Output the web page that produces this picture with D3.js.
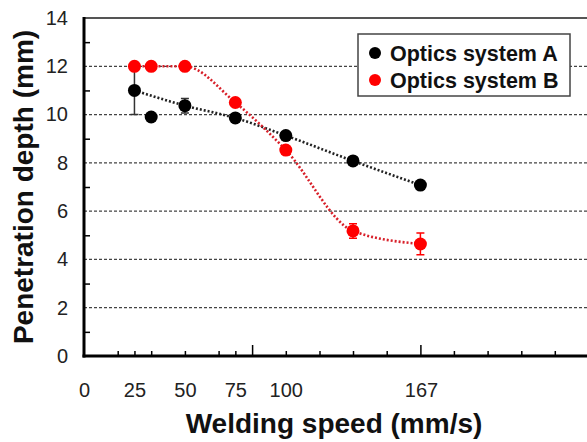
<!DOCTYPE html>
<html lang="en">
<head>
    <meta charset="UTF-8">
    <title>Penetration depth vs welding speed</title>
    <script src="https://cdn.jsdelivr.net/npm/d3@7"></script>
    <style>
        body { margin: 0; background: #fff; }
        text { font-family: Arial, "Liberation Sans", sans-serif; }
    </style>
</head>
<body>
    <svg id="chart" width="587" height="442"></svg>

    <script>
        // welding speed in mm/s (1.5, 2, 3, 4.5, 6, 8, 10 m/min)
        const speeds = [25, 33.3, 50, 75, 100, 133.3, 166.7];
        const depthA = [11.0, 9.9, 10.37, 9.86, 9.13, 8.08, 7.08];
        const errA   = [1.0, 0, 0.3, 0, 0, 0, 0];
        const depthB = [12.0, 12.0, 12.0, 10.5, 8.53, 5.18, 4.64];
        const errB   = [0, 0, 0, 0, 0, 0.3, 0.45];
        // dotted line of system A skips the 33 mm/s point
        const lineA = [25, 50, 75, 100, 133.3, 166.7];

        const seriesNames = ["Optics system A", "Optics system B"];
        const xLabels = [0, 25, 50, 75, 100, 167];
        const xMinorTicks = [16.7, 25, 33.3, 50, 66.7, 75, 100, 116.7, 133.3, 150, 183.3, 200, 216.7, 233.3];
        const xMajorTicks = [83.3, 166.7];
        const yLabels = [0, 2, 4, 6, 8, 10, 12, 14];
        const yMinorTicks = [1, 3, 5, 7, 9, 11, 13];
        const gridValues = [2, 4, 6, 8, 10, 12];

        const plotLeft = 84, plotRight = 588.5, plotTop = 18, plotBottom = 356;

        const svg = d3.select("#chart");
        const x = d3.scaleLinear().domain([0, 250]).range([plotLeft, plotRight]);
        const y = d3.scaleLinear().domain([0, 14]).range([plotBottom, plotTop]);

        // grid
        svg.append("g").selectAll("line")
            .data(gridValues)
            .enter()
            .append("line")
            .attr("x1", plotLeft).attr("x2", plotRight)
            .attr("y1", d => y(d)).attr("y2", d => y(d))
            .style("stroke", "#444")
            .style("stroke-width", 1.2)
            .style("stroke-dasharray", "3,2");

        // top border
        svg.append("line")
            .attr("x1", plotLeft).attr("x2", plotRight)
            .attr("y1", y(14)).attr("y2", y(14))
            .style("stroke", "#555")
            .style("stroke-width", 2);

        // x axis
        const gx = svg.append("g").attr("transform", `translate(0,${plotBottom})`);
        gx.append("g").call(d3.axisBottom(x).tickValues(xMinorTicks).tickSize(-5).tickFormat(""));
        gx.append("g").call(d3.axisBottom(x).tickValues(xMajorTicks).tickSize(-11).tickFormat(""));
        gx.append("g").call(d3.axisBottom(x).tickValues(xLabels).tickSize(0).tickPadding(27));
        gx.selectAll("path").remove();
        gx.selectAll("line").style("stroke", "#000").style("stroke-width", 1.5);
        gx.selectAll("text").style("font-size", "20px").style("fill", "#222");
        gx.append("line")
            .attr("x1", plotLeft - 1.5).attr("x2", plotRight)
            .style("stroke", "#000").style("stroke-width", 3);

        // y axis
        const gy = svg.append("g").attr("transform", `translate(${plotLeft},0)`);
        gy.append("g").call(d3.axisLeft(y).tickValues(yMinorTicks).tickSize(-6).tickFormat(""));
        gy.append("g").call(d3.axisLeft(y).tickValues(yLabels).tickSize(0).tickPadding(16));
        gy.selectAll("path").remove();
        gy.selectAll("line").style("stroke", "#000").style("stroke-width", 1.5);
        gy.selectAll("text").style("font-size", "20px").style("fill", "#222");
        gy.append("line")
            .attr("y1", plotTop - 1).attr("y2", plotBottom + 1.5)
            .style("stroke", "#000").style("stroke-width", 3);

        // lines
        const line = d3.line()
            .x(d => x(d[0]))
            .y(d => y(d[1]))
            .curve(d3.curveMonotoneX);

        const ptsA = speeds.map((s, i) => [s, depthA[i]]).filter(p => lineA.includes(p[0]));
        const ptsB = speeds.map((s, i) => [s, depthB[i]]);

        svg.append("path")
            .attr("d", line(ptsA))
            .style("fill", "none")
            .style("stroke", "#222")
            .style("stroke-width", 2.6)
            .style("stroke-dasharray", "2,2");

        svg.append("path")
            .attr("d", line(ptsB))
            .style("fill", "none")
            .style("stroke", "#d8202a")
            .style("stroke-width", 2.6)
            .style("stroke-dasharray", "2,2");

        // error bars + markers
        function drawSeries(depth, err, color) {
            const g = svg.append("g");
            const data = speeds.map((s, i) => ({ s, v: depth[i], e: err[i] }));
            const withErr = data.filter(d => d.e > 0);

            g.selectAll(".bar")
                .data(withErr)
                .enter()
                .append("path")
                .attr("d", d => {
                    const cx = x(d.s), y1 = y(d.v + d.e), y2 = y(d.v - d.e);
                    return `M${cx},${y1}V${y2}M${cx - 4},${y1}H${cx + 4}M${cx - 4},${y2}H${cx + 4}`;
                })
                .style("fill", "none")
                .style("stroke", color === "#000" ? "#333" : color)
                .style("stroke-width", 1.5);

            g.selectAll("circle")
                .data(data)
                .enter()
                .append("circle")
                .attr("cx", d => x(d.s))
                .attr("cy", d => y(d.v))
                .attr("r", 6.5)
                .style("fill", color);
        }
        drawSeries(depthA, errA, "#000");
        drawSeries(depthB, errB, "#ff0000");

        // legend
        const legend = svg.append("g");
        legend.append("rect")
            .attr("x", 358).attr("y", 34)
            .attr("width", 212).attr("height", 62)
            .style("fill", "#fff")
            .style("stroke", "#444")
            .style("stroke-width", 1.5);

        const colors = ["#000", "#ff0000"];
        seriesNames.forEach((name, i) => {
            const cy = 53 + i * 27;
            legend.append("circle")
                .attr("cx", 375).attr("cy", cy).attr("r", 6)
                .style("fill", colors[i]);
            legend.append("text")
                .attr("x", 390).attr("y", cy + 8)
                .style("font-size", "21.5px")
                .style("font-weight", "bold")
                .style("fill", "#111")
                .text(name);
        });

        // axis titles
        svg.append("text")
            .attr("x", 334)
            .attr("y", 433)
            .attr("text-anchor", "middle")
            .style("font-size", "28px")
            .style("font-weight", "bold")
            .style("fill", "#111")
            .text("Welding speed (mm/s)");

        svg.append("text")
            .attr("transform", "translate(33,187) rotate(-90)")
            .attr("text-anchor", "middle")
            .style("font-size", "28px")
            .style("font-weight", "bold")
            .style("fill", "#111")
            .text("Penetration depth (mm)");
    </script>
</body>
</html>
